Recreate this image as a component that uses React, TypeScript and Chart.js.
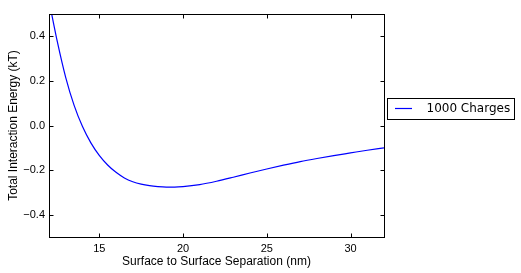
import React, { useEffect, useRef } from "react";
import { Chart, registerables } from "chart.js";

Chart.register(...registerables);

const separationNm = [12, 12.5, 13, 13.5, 14, 14.5, 15, 15.5, 16, 16.5, 17, 17.5, 18, 18.5, 19, 19.5, 20, 21, 22, 23, 24, 25, 26, 27, 28, 29, 30, 31, 32];
const energyKT = [0.56, 0.375, 0.215, 0.09, -0.005, -0.078, -0.134, -0.177, -0.21, -0.235, -0.252, -0.263, -0.27, -0.274, -0.276, -0.276, -0.274, -0.265, -0.25, -0.232, -0.213, -0.195, -0.178, -0.162, -0.148, -0.135, -0.123, -0.111, -0.1];
const xTicks = [15, 20, 25, 30];
const yTicks = [-0.4, -0.2, 0.0, 0.2, 0.4];
const seriesLabel = "1000 Charges";
const xTitle = "Surface to Surface Separation (nm)";
const yTitle = "Total Interaction Energy (kT)";

const fmtY = (v: number) => {
  const s = Math.abs(v) < 1e-9 ? "0.0" : v.toFixed(1);
  return s.replace("-", "\u2212");
};

const framePlugin = {
  id: "frame",
  afterDraw(chart: any) {
    const { ctx, chartArea: a, scales } = chart;
    const L = Math.round(a.left) + 0.5;
    const R = Math.round(a.right) + 0.5;
    const T = Math.round(a.top) + 0.5;
    const B = Math.round(a.bottom) + 0.5;
    ctx.save();
    ctx.strokeStyle = "#000";
    ctx.lineWidth = 1;
    ctx.beginPath();
    const tl = 4;
    xTicks.forEach((t) => {
      const x = Math.round(scales.x.getPixelForValue(t)) + 0.5;
      ctx.moveTo(x, B);
      ctx.lineTo(x, B - tl);
      ctx.moveTo(x, T);
      ctx.lineTo(x, T + tl);
    });
    yTicks.forEach((t) => {
      const y = Math.round(scales.y.getPixelForValue(t)) + 0.5;
      ctx.moveTo(L, y);
      ctx.lineTo(L + tl, y);
      ctx.moveTo(R, y);
      ctx.lineTo(R - tl, y);
    });
    ctx.stroke();
    ctx.strokeRect(L, T, R - L, B - T);

    // axis titles
    ctx.fillStyle = "#000";
    ctx.font = "12px 'Liberation Sans', Arial, sans-serif";
    ctx.textAlign = "center";
    ctx.textBaseline = "middle";
    ctx.fillText(xTitle, (a.left + a.right) / 2, 262);
    ctx.save();
    ctx.translate(14, (a.top + a.bottom) / 2);
    ctx.rotate(-Math.PI / 2);
    ctx.fillText(yTitle, 0, 0);
    ctx.restore();

    // legend
    const bx = 387.5, by = 98.5, bw = 127, bh = 21;
    ctx.fillStyle = "#fff";
    ctx.fillRect(bx, by, bw, bh);
    ctx.strokeStyle = "#000";
    ctx.strokeRect(bx, by, bw, bh);
    ctx.strokeStyle = "#0000ff";
    ctx.lineWidth = 1.2;
    ctx.beginPath();
    ctx.moveTo(395, 108.5);
    ctx.lineTo(412, 108.5);
    ctx.stroke();
    ctx.fillStyle = "#000";
    ctx.font = "12px 'DejaVu Sans', sans-serif";
    ctx.textAlign = "left";
    ctx.textBaseline = "middle";
    ctx.fillText(seriesLabel, 426.5, 109);
    ctx.restore();
  },
};

export default function App() {
  const ref = useRef<HTMLCanvasElement | null>(null);
  useEffect(() => {
    if (!ref.current) return;
    const chart = new Chart(ref.current, {
      type: "line",
      data: {
        datasets: [
          {
            label: seriesLabel,
            data: separationNm.map((x, i) => ({ x, y: energyKT[i] })),
            borderColor: "#0000ff",
            borderWidth: 1.2,
            pointRadius: 0,
            fill: false,
            cubicInterpolationMode: "monotone",
          },
        ],
      },
      options: {
        responsive: false,
        animation: false,
        layout: { padding: { top: 14, right: 137, left: 0, bottom: 0 } },
        plugins: { legend: { display: false }, tooltip: { enabled: false } },
        scales: {
          x: {
            type: "linear",
            min: 12,
            max: 32,
            afterBuildTicks: (s: any) => {
              s.ticks = xTicks.map((v) => ({ value: v }));
            },
            afterFit: (s: any) => {
              s.height = 36;
            },
            grid: { display: false, drawTicks: false },
            border: { display: false },
            ticks: {
              padding: 5,
              color: "#000",
              font: { family: "'Liberation Sans', Arial, sans-serif", size: 11 },
              maxRotation: 0,
              callback: (v: any) => String(v),
            },
          },
          y: {
            type: "linear",
            min: -0.5,
            max: 0.5,
            afterBuildTicks: (s: any) => {
              s.ticks = yTicks.map((v) => ({ value: v }));
            },
            afterFit: (s: any) => {
              s.width = 49;
            },
            grid: { display: false, drawTicks: false },
            border: { display: false },
            ticks: {
              padding: 4,
              color: "#000",
              font: { family: "'Liberation Sans', Arial, sans-serif", size: 11 },
              callback: (v: any) => fmtY(Number(v)),
            },
          },
        },
      },
      plugins: [framePlugin],
    } as any);
    return () => chart.destroy();
  }, []);
  return (
    <div style={{ position: "fixed", left: 0, top: 0, width: 521, height: 273, background: "#fff" }}>
      <canvas ref={ref} width={521} height={273} style={{ display: "block" }} />
    </div>
  );
}
